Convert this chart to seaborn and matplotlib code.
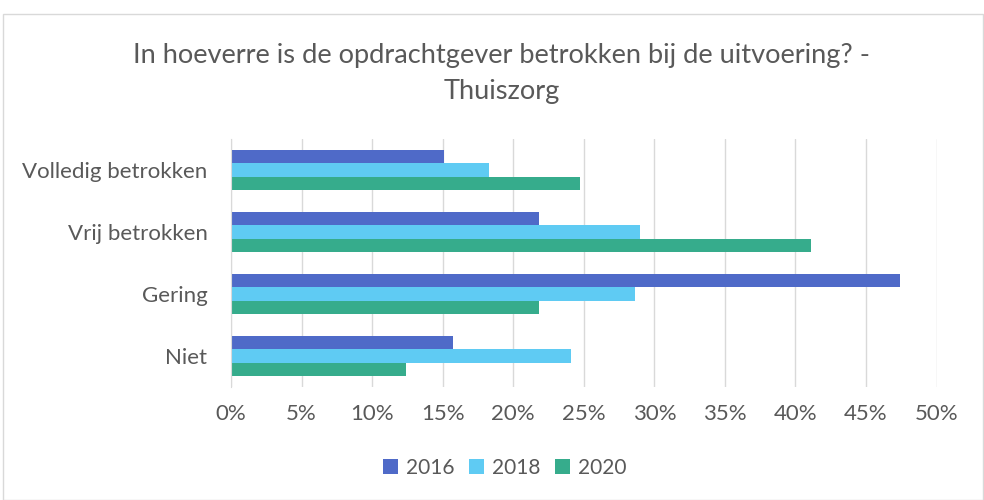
import pandas as pd
import numpy as np
import matplotlib.pyplot as plt
import matplotlib.patches as mpatches
from matplotlib.ticker import PercentFormatter
import seaborn as sns

sns.set_style('white')
plt.rcParams['font.family'] = ['Lato', 'DejaVu Sans']

categories = ['Volledig betrokken', 'Vrij betrokken', 'Gering', 'Niet']
years = ['2016', '2018', '2020']
vals_2016 = [15.1, 21.8, 47.4, 15.7]
vals_2018 = [18.3, 29.0, 28.6, 24.1]
vals_2020 = [24.7, 41.1, 21.8, 12.4]
colors = ['#4F6AC8', '#5FCBF3', '#36AC8C']
title = 'In hoeverre is de opdrachtgever betrokken bij de uitvoering? -\nThuiszorg'

df = pd.DataFrame({
    'cat': categories * 3,
    'year': [y for y in years for _ in categories],
    'value': vals_2016 + vals_2018 + vals_2020,
})

fig = plt.figure(figsize=(9.84, 5.0), dpi=100)
ax = fig.add_axes([0.2348, 0.226, 0.717, 0.496])

sns.barplot(data=df, y='cat', x='value', hue='year', order=categories,
            hue_order=years, palette=colors, width=0.63, orient='h',
            saturation=1, ax=ax, edgecolor='none')

ax.set_xlim(0, 50)
ax.set_xticks(np.arange(0, 51, 5))
ax.xaxis.set_major_formatter(PercentFormatter(decimals=0))
ax.grid(axis='x', color='#D9D9D9', linewidth=1)
ax.set_axisbelow(True)
for s in ['top', 'right', 'bottom']:
    ax.spines[s].set_visible(False)
ax.spines['left'].set_color('#D9D9D9')
ax.tick_params(axis='both', length=0, labelsize=16, colors='#595959')
ax.tick_params(axis='x', pad=12)
ax.tick_params(axis='y', pad=17)
ax.set_xlabel('')
ax.set_ylabel('')

fig.text(0.510, 0.853, title, ha='center', va='center', fontsize=19.6,
         color='#595959', linespacing=1.58)

ax.legend(loc='center', bbox_to_anchor=(0.513, 0.064), bbox_transform=fig.transFigure,
          ncol=3, frameon=False, fontsize=15, handlelength=0.7, handleheight=0.7,
          columnspacing=0.7, handletextpad=0.4, labelcolor='#595959')

fig.patches.append(mpatches.Rectangle((0.003, 0.0), 0.996, 0.972, transform=fig.transFigure,
                                      fill=False, edgecolor='#D9D9D9', linewidth=1))

fig.savefig('out.png', dpi=100)
